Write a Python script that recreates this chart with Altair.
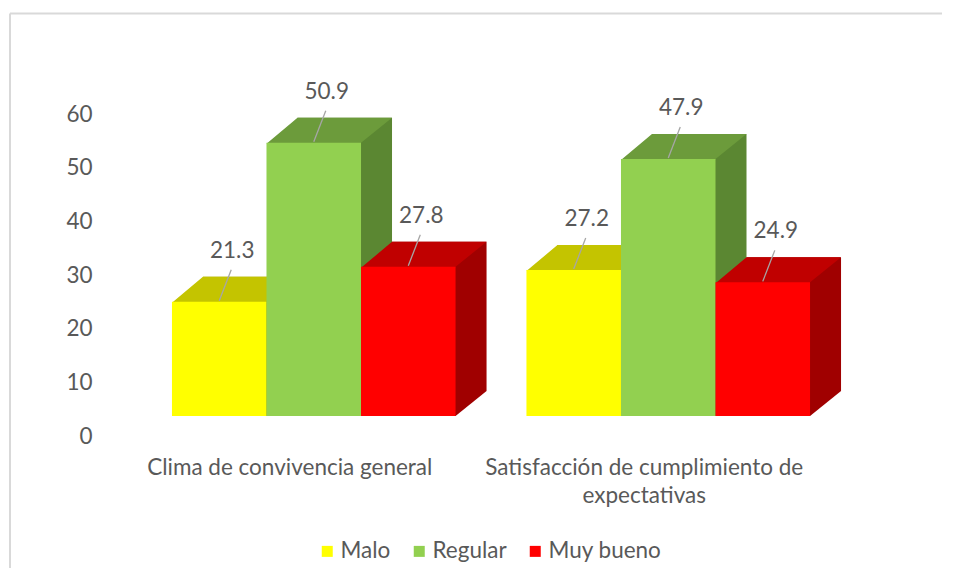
import altair as alt
import pandas as pd

# ---------------- data ----------------
categories = ["Clima de convivencia general", "Satisfacción de cumplimiento de expectativas"]
series = ["Malo", "Regular", "Muy bueno"]
malo = [21.3, 27.2]
regular = [50.9, 47.9]
muy_bueno = [27.8, 24.9]
y_ticks = [0, 10, 20, 30, 40, 50, 60]
label_lines = {
    "Satisfacción de cumplimiento de expectativas": ["Satisfacción de cumplimiento de", "expectativas"],
}

# ---------------- styles ----------------
front_colors = ["#FFFF00", "#92D050", "#FF0000"]
top_colors = ["#C4C400", "#6C9B3B", "#C00000"]
side_colors = ["#A3A300", "#5B8732", "#A00000"]
FONT = "Lato"
FS = 22.5
GRAY = "#595959"

rows = []
for i, c in enumerate(categories):
    for s, vals in zip(series, [malo, regular, muy_bueno]):
        rows.append({"categoria": c, "serie": s, "valor": vals[i]})
df = pd.DataFrame(rows)

# layout
W, H = 782, 322
P_IN, P_OUT = 0.2, 0.203
step = W / (len(categories) - P_IN + 2 * P_OUT)
BW = step * (1 - P_IN)
half = BW / len(series) / 2
DX, DY = 31, 25      # 3-D depth in pixels
FLOOR = 20           # floor of the 3-D bars sits 20 px above the axis zero

expr = "datum.label"
for k, v in label_lines.items():
    arr = "[" + ",".join("'" + s + "'" for s in v) + "]"
    expr = f"datum.label == '{k}' ? {arr} : ({expr})"

x_enc = alt.X(
    "categoria:N",
    sort=categories,
    scale=alt.Scale(paddingInner=P_IN, paddingOuter=P_OUT),
    axis=alt.Axis(
        title=None, domain=False, ticks=False, labelAngle=0, labelPadding=20,
        labelOffset=-24, labelFont=FONT, labelFontSize=FS, labelColor=GRAY,
        labelLineHeight=28, labelBaseline="top", labelLimit=0, labelExpr=expr,
    ),
)
y_axis = alt.Axis(
    title=None, values=y_ticks, grid=False, domain=False, ticks=False,
    labelPadding=8, labelFont=FONT, labelFontSize=FS, labelColor=GRAY,
)
y_scale = alt.Scale(domain=[0, 60], nice=False, zero=True)
y_enc = alt.Y("valor:Q", scale=y_scale, axis=y_axis)
xo = alt.XOffset("serie:N", sort=series, scale=alt.Scale(domain=series))

base = alt.Chart(df)

# side faces: bar shifted back by the depth
back = base.mark_bar(yOffset=-(FLOOR + DY), y2Offset=-(FLOOR + DY)).encode(
    x=x_enc,
    xOffset=alt.XOffset("serie:N", sort=series,
                        scale=alt.Scale(domain=series, range=[DX, DX + BW])),
    y=y_enc,
    color=alt.Color("serie:N", scale=alt.Scale(domain=series, range=side_colors), legend=None),
)

top_path = (f"M{-half:.2f},1L{half:.2f},1L{half:.2f},0L{half + DX:.2f},{-DY}"
            f"L{-half + DX:.2f},{-DY}Z")
tops = base.mark_point(shape=top_path, size=4, filled=True, opacity=1, strokeWidth=0,
                       yOffset=-FLOOR).encode(
    x=x_enc, xOffset=xo, y=y_enc,
    color=alt.Color("serie:N", scale=alt.Scale(domain=series, range=top_colors), legend=None),
)

bottom_path = f"M{half - 1:.2f},{-DY}L{half - 1:.2f},0L{half:.2f},0L{half + DX:.2f},{-DY}Z"
bottoms = base.transform_calculate(valor="0").mark_point(
    shape=bottom_path, size=4, filled=True, opacity=1, strokeWidth=0, yOffset=-FLOOR
).encode(
    x=x_enc, xOffset=xo, y=y_enc,
    color=alt.Color("serie:N", scale=alt.Scale(domain=series, range=side_colors), legend=None),
)

fronts = base.mark_bar(yOffset=-FLOOR, y2Offset=-FLOOR).encode(
    x=x_enc, xOffset=xo, y=y_enc,
    color=alt.Color(
        "serie:N",
        scale=alt.Scale(domain=series, range=front_colors),
        legend=alt.Legend(
            title=None, orient="none", legendX=216, legendY=426, direction="horizontal",
            symbolType="square", symbolSize=121, symbolStrokeWidth=0,
            labelFont=FONT, labelFontSize=FS, labelColor=GRAY, labelOffset=2,
            columnPadding=17, padding=0, labelLimit=0,
        ),
    ),
)

leader = base.mark_point(shape="M0,-1L12,-32", size=4, filled=False, opacity=1,
                         stroke="#A6A6A6", strokeWidth=1.3, yOffset=-FLOOR).encode(
    x=x_enc, xOffset=xo, y=y_enc,
)

labels = base.mark_text(font=FONT, fontSize=FS, color=GRAY, dx=13, dy=-(FLOOR + 51),
                        baseline="middle", align="center").encode(
    x=x_enc, xOffset=xo, y=y_enc, text=alt.Text("valor:Q", format=".1f"),
)

frame = pd.DataFrame({"k": [0]})
border_top = alt.Chart(frame).mark_rule(color="#D9D9D9", strokeWidth=2).encode(
    x=alt.value(-90), x2=alt.value(860), y=alt.value(-100.5))
border_left = alt.Chart(frame).mark_rule(color="#D9D9D9", strokeWidth=2).encode(
    x=alt.value(-90), y=alt.value(-100.5), y2=alt.value(470))

chart = (
    alt.layer(border_top, border_left, back, tops, bottoms, fronts, leader, labels)
    .resolve_scale(color="independent", xOffset="independent")
    .properties(
        width=W, height=H,
        autosize=alt.AutoSizeParams(type="none"),
        padding={"left": 92, "top": 106, "right": 60, "bottom": 132},
    )
    .configure_view(stroke=None)
)

chart.save("out.html", embed_options={"renderer": "svg", "actions": False})
